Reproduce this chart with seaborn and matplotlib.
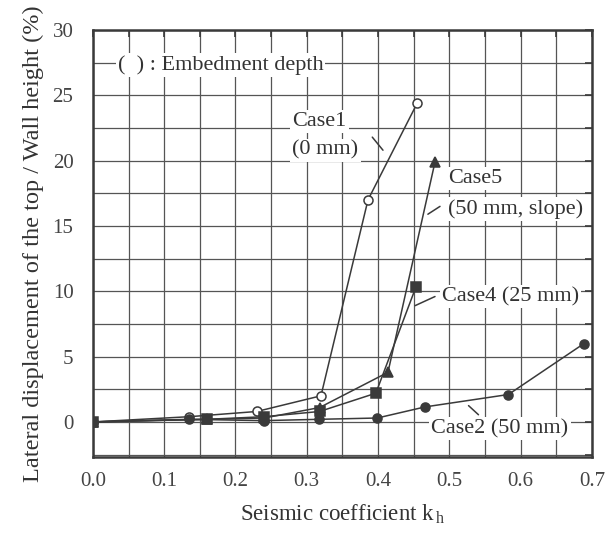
import numpy as np
import pandas as pd
import seaborn as sns
import matplotlib
matplotlib.use("Agg")
import matplotlib.pyplot as plt

# ---- data ----
case1_x = [0.0, 0.135, 0.23, 0.32, 0.386, 0.455]
case1_y = [0.0, 0.4, 0.8, 2.0, 17.0, 24.4]

case2_x = [0.0, 0.135, 0.24, 0.317, 0.399, 0.466, 0.583, 0.689]
case2_y = [0.0, 0.2, 0.1, 0.2, 0.3, 1.15, 2.1, 6.0]

case4_x = [0.0, 0.16, 0.24, 0.318, 0.397, 0.453]
case4_y = [0.0, 0.2, 0.4, 0.8, 2.2, 10.3]

case5_x = [0.0, 0.16, 0.24, 0.318, 0.414, 0.48]
case5_y = [0.0, 0.2, 0.3, 1.1, 3.8, 19.9]

x_ticks = [0.0, 0.1, 0.2, 0.3, 0.4, 0.5, 0.6, 0.7]
y_ticks = [0, 5, 10, 15, 20, 25, 30]

sns.set_style("white")
plt.rcParams['font.family'] = ['Liberation Serif', 'DejaVu Serif']
plt.rcParams['mathtext.fontset'] = 'custom'
plt.rcParams['mathtext.rm'] = 'Liberation Serif'

ink = '#3a3a3a'
fig = plt.figure(figsize=(6.07, 5.36), dpi=100)
ax = fig.add_axes([0.153, 0.147, 0.822, 0.797])

series = [
    (case1_x, case1_y, 'o', 'white'),
    (case2_x, case2_y, 'o', ink),
    (case4_x, case4_y, 's', ink),
    (case5_x, case5_y, '^', ink),
]
for xs, ys, m, fc in series:
    df = pd.DataFrame({'k': xs, 'd': ys})
    sns.lineplot(data=df, x='k', y='d', ax=ax, color=ink, lw=1.1,
                 marker=m, markersize=6.5, markerfacecolor=fc,
                 markeredgecolor=ink, markeredgewidth=1.1, zorder=5,
                 estimator=None)

ax.set_xlim(0, 0.7)
ax.set_ylim(-2.7, 30)
ax.set_xticks(x_ticks)
ax.set_xticklabels([f"{t:.1f}" for t in x_ticks])
ax.set_yticks(y_ticks)
ax.set_xticks(np.arange(0.05, 0.7, 0.1), minor=True)
ax.set_yticks(np.arange(-2.5, 30, 5), minor=True)
ax.grid(True, which='both', color='#555555', lw=0.9, zorder=0)
ax.set_axisbelow(True)
for s in ax.spines.values():
    s.set_color(ink)
    s.set_linewidth(1.8)
ax.tick_params(which='both', direction='in', top=True, right=True,
               length=5, width=1.2, color=ink, labelsize=15,
               labelcolor='#444444')
ax.tick_params(axis='x', which='major', pad=11)
ax.tick_params(axis='y', which='major', pad=14)

ax.set_xlabel(r"Seismic coefficient k$_{\,\rm h}$", fontsize=16.5, color='#333333', labelpad=8)
ax.set_ylabel("Lateral displacement of the top / Wall height (%)", fontsize=17.5,
              color='#333333', labelpad=6)

bbox = dict(facecolor='white', edgecolor='none', pad=1.5)
tkw = dict(fontsize=16, color='#333333', bbox=bbox, zorder=4, va='center', ha='left')
ax.text(0.035, 27.3, "(  ) : Embedment depth", **tkw)
ax.text(0.28, 23.0, "Case1", **tkw)
ax.text(0.28, 20.8, "(0 mm)", **tkw)
ax.text(0.498, 18.6, "Case5", **tkw)
ax.text(0.498, 16.3, "(50 mm, slope)", **tkw)
ax.text(0.49, 9.6, "Case4 (25 mm)", **tkw)
ax.text(0.475, -0.5, "Case2 (50 mm)", **tkw)

# short leader marks
lkw = dict(color=ink, lw=1.1, zorder=6)
ax.plot([0.392, 0.407], [21.8, 20.8], **lkw)
ax.plot([0.487, 0.470], [16.5, 15.9], **lkw)
ax.plot([0.480, 0.452], [9.6, 8.9], **lkw)
ax.plot([0.527, 0.541], [1.25, 0.55], **lkw)

fig.savefig("out.png", dpi=100, facecolor='white')
